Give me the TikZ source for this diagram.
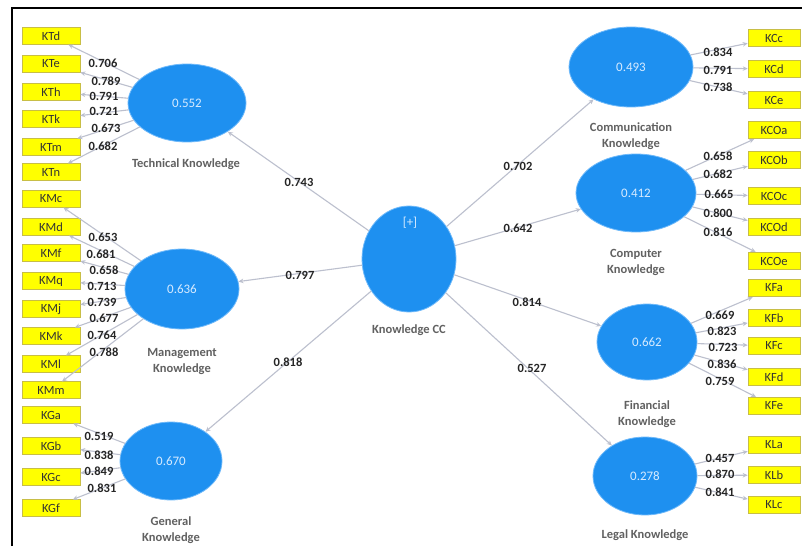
\documentclass[tikz,border=0pt]{standalone}
\usepackage{fontspec}
\setmainfont{Carlito}
\usetikzlibrary{shapes.geometric,arrows.meta}
\definecolor{lvblue}{RGB}{30,144,240}
\definecolor{lvedge}{RGB}{110,185,250}
\definecolor{indy}{RGB}{255,255,0}
\definecolor{indborder}{RGB}{200,190,70}
\definecolor{linegray}{RGB}{188,192,206}
\definecolor{r2text}{RGB}{215,235,255}
\begin{document}
\begin{tikzpicture}[x=1pt,y=-1pt,
  lv/.style={ellipse,fill=lvblue,draw=lvedge,line width=0.8pt,inner sep=0pt,
    font=\fontsize{13}{13}\selectfont,text=r2text},
  ind/.style={rectangle,fill=indy,draw=indborder,line width=0.6pt,inner sep=0pt,
    font=\fontsize{12.5}{12}\selectfont,text=black!80},
  indl/.style={ind,minimum width=58pt,minimum height=16.5pt},
  indr/.style={ind,minimum width=52pt,minimum height=17.5pt},
  arr/.style={draw=linegray,line width=1.1pt,-{Stealth[length=5pt,width=4.5pt]}},
  ld/.style={font=\bfseries\fontsize{12.5}{12}\selectfont,text=black!85,inner sep=0pt},
  lvname/.style={font=\bfseries\fontsize{12.5}{16}\selectfont,text=black!62,align=center,inner sep=0pt}
]
\useasboundingbox (0,0) rectangle (802,548);
\fill[white] (0,0) rectangle (802,548);
\draw[black,line width=1.6pt] (12,546) -- (12,8) -- (802,8);

% latent variables
\node[lv,minimum width=118pt,minimum height=78pt] (tech) at (187,103) {0.552};
\node[lv,minimum width=114pt,minimum height=80pt] (mgmt) at (182,289) {0.636};
\node[lv,minimum width=102pt,minimum height=78pt] (gen) at (171,461) {0.670};
\node[lv,minimum width=94pt,minimum height=106pt] (kcc) at (409,259) {};
\node[lv,minimum width=124pt,minimum height=80pt] (comm) at (631,67) {0.493};
\node[lv,minimum width=120pt,minimum height=78pt] (comp) at (636,193) {0.412};
\node[lv,minimum width=100pt,minimum height=76pt] (fin) at (647,342) {0.662};
\node[lv,minimum width=104pt,minimum height=78pt] (legal) at (645,476) {0.278};
\node[font=\fontsize{13}{13}\selectfont,text=r2text,inner sep=0pt] (plus) at (410,223) {[+]};

% construct names
\node[lvname] (ntech) at (186,164) {Technical Knowledge};
\node[lvname] (nmgmt) at (182,362) {Management\\Knowledge};
\node[lvname] (ngen) at (171,530) {General\\Knowledge};
\node[lvname] (nkcc) at (409,330) {Knowledge CC};
\node[lvname] (ncomm) at (631,136) {Communication\\Knowledge};
\node[lvname] (ncomp) at (636,262) {Computer\\Knowledge};
\node[lvname] (nfin) at (647,414) {Financial\\Knowledge};
\node[lvname] (nlegal) at (645,535) {Legal Knowledge};

% left indicators
\foreach \n/\y in {KTd/36,KTe/64,KTh/92,KTk/119,KTm/147,KTn/172,
  KMc/199,KMd/227,KMf/253,KMq/281,KMj/309,KMk/336,KMl/364,KMm/390,
  KGa/415,KGb/446,KGc/477,KGf/508}
  \node[indl] (\n) at (51,\y) {\n};
% right indicators
\foreach \n/\y in {KCc/38,KCd/69,KCe/100,KCOa/130,KCOb/160,KCOc/196,KCOd/227,KCOe/261,
  KFa/288,KFb/318,KFc/346,KFd/377,KFe/406,KLa/445,KLb/475,KLc/505}
  \node[indr] (\n) at (774,\y) {\n};

% outer model arrows
\foreach \n in {KTd,KTe,KTh,KTk,KTm,KTn} \draw[arr] (tech) -- (\n);
\foreach \n in {KMc,KMd,KMf,KMq,KMj,KMk,KMl,KMm} \draw[arr] (mgmt) -- (\n);
\foreach \n in {KGa,KGb,KGc,KGf} \draw[arr] (gen) -- (\n);
\foreach \n in {KCc,KCd,KCe} \draw[arr] (comm) -- (\n);
\foreach \n in {KCOa,KCOb,KCOc,KCOd,KCOe} \draw[arr] (comp) -- (\n);
\foreach \n in {KFa,KFb,KFc,KFd,KFe} \draw[arr] (fin) -- (\n);
\foreach \n in {KLa,KLb,KLc} \draw[arr] (legal) -- (\n);

% inner model arrows
\foreach \n in {tech,mgmt,gen,comm,comp,fin,legal} \draw[arr] (kcc) -- (\n);

% loadings
\foreach \v/\x/\y in {0.706/103/63,0.789/106/81,0.791/104/96,0.721/104/111,0.673/106/128,0.682/103/146,
  0.653/103/237,0.681/101/254,0.658/104/270,0.713/102/286,0.739/102/302,0.677/104/318,0.764/102/335,0.788/104/352,
  0.519/99/436,0.838/99/455,0.849/99/471,0.831/102/488}
  \node[ld] at (\x,\y) {\v};
\foreach \v/\x/\y in {0.834/718/52,0.791/718/70,0.738/718/87,
  0.658/718/156,0.682/718/174,0.665/719/194,0.800/718/213,0.816/718/232,
  0.669/720/315,0.823/722/331,0.723/723/347,0.836/722/364,0.759/720/381,
  0.457/720/458,0.870/720/474,0.841/720/492}
  \node[ld] at (\x,\y) {\v};
% path coefficients
\node[ld] at (299,182) {0.743};
\node[ld] at (300,275) {0.797};
\node[ld] at (288,362) {0.818};
\node[ld] at (518,166) {0.702};
\node[ld] at (518,228) {0.642};
\node[ld] at (527,302) {0.814};
\node[ld] at (532,368) {0.527};
\end{tikzpicture}
\end{document}
